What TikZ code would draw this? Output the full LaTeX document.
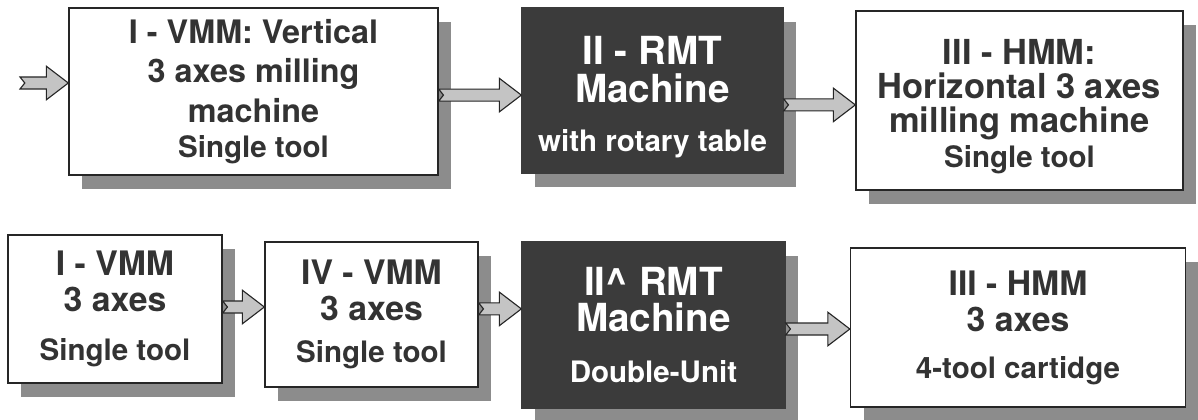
\documentclass[tikz,border=0pt]{standalone}
\usepackage{fontspec}
\setmainfont{TeX Gyre Heros}
\usepackage{tikz}
\usetikzlibrary{calc,shadows}
\definecolor{boxline}{HTML}{262626}
\definecolor{boxtext}{HTML}{333333}
\definecolor{darkfill}{HTML}{3B3B3B}
\definecolor{shadowc}{HTML}{8C8C8C}
\definecolor{arrowfill}{HTML}{C4C4C4}
\tikzset{
  plainbox/.style={draw=boxline, line width=0.9pt, fill=white, align=center,
              inner sep=0pt, text=boxtext,
              font=\bfseries\fontsize{24}{26}\selectfont,
              drop shadow={shadow xshift=0.33cm, shadow yshift=-0.35cm,
                           fill=shadowc, opacity=1}},
  darkbox/.style={plainbox, draw=darkfill, fill=darkfill, text=white,
              font=\bfseries\fontsize{27.5}{27}\selectfont},
  fatarrow/.style={draw=boxline, line width=0.8pt, fill=arrowfill,
              line join=miter},
}
\newcommand\smalltxt{\normalfont\bfseries\fontsize{21}{22}\selectfont}
% block arrow from a node (shifted up/down) to the x of another node
\newcommand\fatlink[3]{%
  \path[fatarrow] let \p1=([yshift=#3]#1), \p2=(#2) in
    (\x1,\y1+0.15cm) -- (\x2-0.55cm,\y1+0.15cm) -- (\x2-0.55cm,\y1+0.42cm)
    -- (\x2,\y1) -- (\x2-0.55cm,\y1-0.42cm) -- (\x2-0.55cm,\y1-0.15cm)
    -- (\x1,\y1-0.15cm) -- (\x1+0.12cm,\y1) -- cycle;}
\begin{document}
\begin{tikzpicture}[x=0.025cm, y=-0.025cm]
\useasboundingbox (0,0) rectangle (1198,420);
% upper line
\node[plainbox, minimum width=9.225cm, minimum height=4.175cm,
      font=\bfseries\fontsize{23}{28.3}\selectfont] (vmmTop) at (253.5,91.5)
  {I - VMM: Vertical\\ 3 axes milling\\ machine\\[-3.5pt] {\smalltxt Single tool}};
\node[darkbox, minimum width=6.525cm, minimum height=4.125cm] (rmtTop) at (652.5,90.5)
  {\rule{0pt}{30pt}II - RMT\\ Machine\\[8pt] {\smalltxt with rotary table}};
\node[plainbox, minimum width=8.175cm, minimum height=4.475cm,
      font=\bfseries\fontsize{24.5}{24.4}\selectfont] (hmmTop) at (1019.5,100.5)
  {\rule{0pt}{26pt}III - HMM:\\ Horizontal 3 axes\\ milling machine\\ {\smalltxt Single tool}};
% lower line
\node[plainbox, minimum width=5.35cm, minimum height=3.7cm] (vmmOne) at (115,309)
  {I - VMM\\ 3 axes\\[9pt] {\smalltxt Single tool}};
\node[plainbox, minimum width=5.325cm, minimum height=3.625cm] (vmmFour) at (371.5,314.5)
  {IV - VMM\\ 3 axes\\[4pt] {\smalltxt Single tool}};
\node[darkbox, minimum width=6.575cm, minimum height=4.15cm,
      font=\bfseries\fontsize{27.5}{26.2}\selectfont] (rmtDouble) at (653.5,325)
  {II\^{} RMT\\ Machine\\[10pt] {\smalltxt Double-Unit}};
\node[plainbox, minimum width=8.375cm, minimum height=3.975cm] (hmmCart) at (1018,327.5)
  {III - HMM\\ 3 axes\\[7pt] {\smalltxt 4-tool cartidge}};
% connectors
\coordinate (feed) at (20,83);
\fatlink{feed}{vmmTop.west}{0cm}
\fatlink{vmmTop.east}{rmtTop.west}{-0.09cm}
\fatlink{rmtTop.east}{hmmTop.west}{-0.36cm}
\fatlink{vmmOne.east}{vmmFour.west}{0.05cm}
\fatlink{vmmFour.east}{rmtDouble.west}{0.14cm}
\fatlink{rmtDouble.east}{hmmCart.west}{-0.1cm}
\end{tikzpicture}
\end{document}
